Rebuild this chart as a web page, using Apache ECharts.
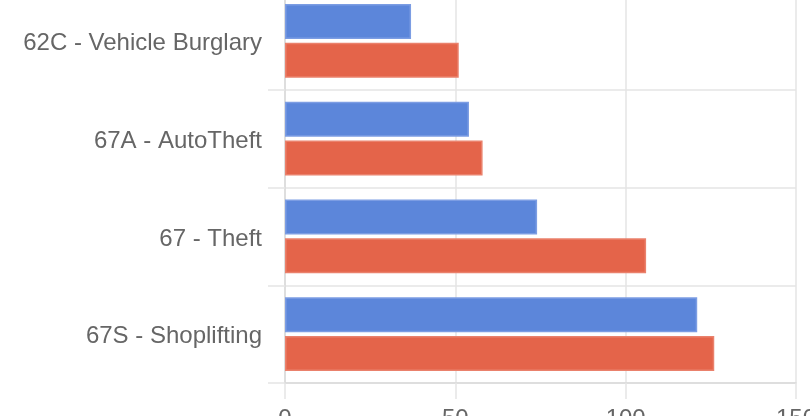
<!DOCTYPE html>
<html>
<head>
<meta charset="utf-8">
<script src="https://cdn.jsdelivr.net/npm/echarts@6/dist/echarts.min.js"></script>
<style>
  html, body { margin: 0; padding: 0; background: #fff; }
  #chart { width: 810px; height: 416px; }
</style>
</head>
<body>
<div id="chart"></div>
<script>
// data
const categories = ['62C - Vehicle Burglary', '67A - AutoTheft', '67 - Theft', '67S - Shoplifting'];
const blueValues = [37, 54, 74, 121];
const redValues = [51, 58, 106, 126];
const xTicks = [0, 50, 100, 150];

const gridColor = '#e5e5e5';
const font = 'Helvetica, "Liberation Sans", Arial, sans-serif';

const myChart = echarts.init(document.getElementById('chart'));
myChart.setOption({
  animation: false,
  grid: {left: 285, right: 14, top: -8, bottom: 33, containLabel: false, outerBoundsMode: 'none'},
  xAxis: {
    type: 'value',
    min: xTicks[0],
    max: xTicks[xTicks.length - 1],
    interval: 50,
    axisLine: {show: true, lineStyle: {color: '#dadada', width: 1.5}},
    axisTick: {show: true, length: 16, lineStyle: {color: gridColor, width: 1.5}},
    splitLine: {show: true, lineStyle: {color: gridColor, width: 1.5}},
    axisLabel: {color: '#666', fontSize: 24, fontFamily: font, margin: 24}
  },
  yAxis: {
    type: 'category',
    data: categories,
    inverse: true,
    axisLine: {show: true, lineStyle: {color: '#dadada', width: 1.5}},
    axisTick: {show: true, length: 17, lineStyle: {color: gridColor, width: 1.5}},
    splitLine: {show: true, lineStyle: {color: gridColor, width: 1.5}},
    axisLabel: {
      margin: 23,
      formatter: (val) => '{t|' + val + '}',
      rich: {
        t: {color: '#666', fontSize: 24, fontFamily: font, padding: [5, 0, 0, 0]}
      }
    }
  },
  series: [
    {
      type: 'bar',
      data: blueValues,
      barWidth: 35,
      barGap: '11%',
      itemStyle: {color: '#5c86da', borderColor: '#7c9de3', borderWidth: 1.5}
    },
    {
      type: 'bar',
      data: redValues,
      barWidth: 35,
      barGap: '11%',
      itemStyle: {color: '#e4644a', borderColor: '#ea816c', borderWidth: 1.5}
    }
  ]
});
</script>
</body>
</html>
